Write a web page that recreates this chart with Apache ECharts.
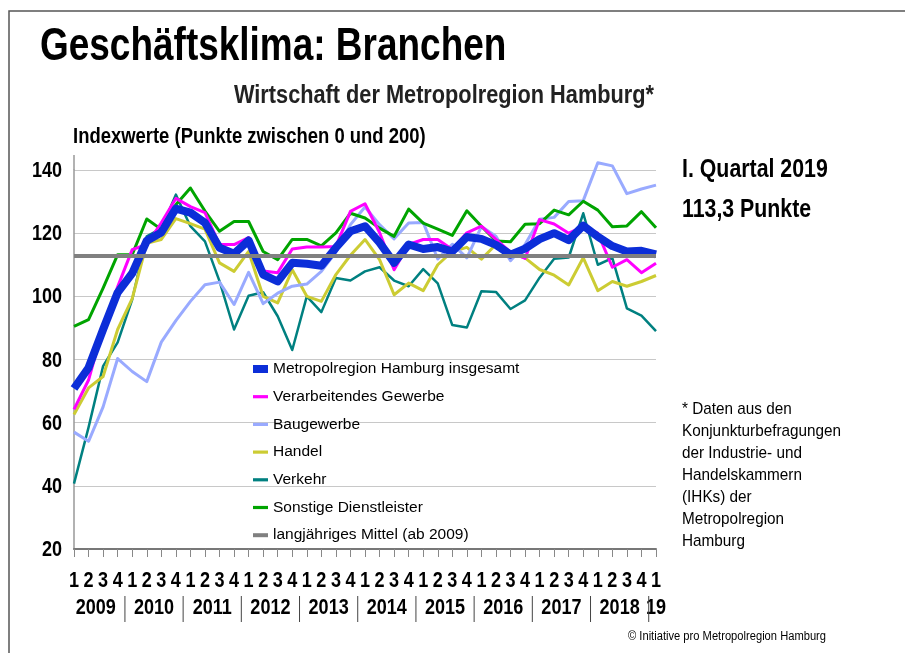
<!DOCTYPE html>
<html>
<head>
<meta charset="utf-8">
<script src="https://cdn.jsdelivr.net/npm/echarts@6/dist/echarts.min.js"></script>
<style>
html,body{margin:0;padding:0;background:#fff;}
#chart{width:905px;height:653px;}
</style>
</head>
<body>
<div id="chart"></div>
<script>
// ---- data ----
const quarterLabels = ['1','2','3','4','1','2','3','4','1','2','3','4','1','2','3','4','1','2','3','4',
  '1','2','3','4','1','2','3','4','1','2','3','4','1','2','3','4','1','2','3','4','1'];
const yearLabels = ['2009','2010','2011','2012','2013','2014','2015','2016','2017','2018','19'];
const yTicks = [20, 40, 60, 80, 100, 120, 140];

const gesamt = [70.8,77.4,89.5,101.2,107.3,117.6,120.2,127.8,126.5,123.3,115.4,113.5,117.7,106.9,104.7,110.6,110.3,109.7,115.4,120.6,
  122.2,117,110.6,116.4,115,115.6,114.2,118.8,118.2,116.3,113.2,115.1,118.1,120,117.8,122.4,118.9,115.9,114.2,114.4,113.3];
const verarbeitend = [64.2,73.5,90,103,114.8,116.4,123.3,131,128.4,126.5,116.4,116.4,118.6,108,107.5,115,115.6,115.6,115.8,126.9,
  129.3,120.2,108.4,116.4,118,118,114.8,120.1,122.2,118,114,112,124.3,122.9,120,122.1,120,109.2,111.6,107.5,110.5];
const baugewerbe = [57,54.1,65,80.3,76.2,73,85.5,92.3,98.4,103.7,104.5,97.4,107.6,97.7,101,103.2,103.9,107.9,114,122.7,
  128.3,122.7,118.2,123.2,123.4,111.8,116.5,112.2,122.1,119,111.3,116.4,124.4,125,130,130.3,142.3,141.3,132.5,134,135.2];
const handel = [62.6,71,74.6,89.5,99.3,116.8,118,124.6,123,121.3,110.6,107.9,114.2,100,97.9,108.4,100,98.4,106.9,113,
  118,111.6,100.5,104.2,101.8,110,114.2,115.5,111.8,116.4,113.6,112.2,108.5,106.7,103.6,112.2,101.8,104.7,103.2,104.7,106.6];
const verkehr = [40.7,58.5,77.9,85.4,99,119,121.5,132.2,122.2,117.4,104.8,89.5,100.2,101.3,93.7,83,100,95,105.8,105,
  107.9,109.2,105,103.2,108.6,104.1,90.9,90.1,101.6,101.4,96,98.7,105.9,111.9,112.3,126.3,110,112.1,96.2,93.9,89];
const sonstige = [90.5,92.6,102.6,113.2,113.2,124.5,121.2,129,134.3,127,120.6,123.7,123.7,114.2,111.6,118,118,116,120.1,126.3,
  124.8,121.6,119,127.6,123.2,121.3,119.3,127.1,122.2,117.5,117.3,122.8,123,127.3,125.8,130.1,127.3,122,122.3,126.8,121.7];
const mittel = 113;

const seriesNames = ['Metropolregion Hamburg insgesamt','Verarbeitendes Gewerbe','Baugewerbe','Handel','Verkehr',
  'Sonstige Dienstleister','langjähriges Mittel (ab 2009)'];

const FN = "'Liberation Sans',Arial,sans-serif";
const NARROW = 0.82;

// positions on the quarter scale
const quarterItems = quarterLabels.map((q, i) => [i, i]);
const yearItems = yearLabels.map((y, k) => [k < 10 ? 4 * k + 1.5 : 40, k]);
const separatorItems = [];
for (let k = 0; k < 10; k++) separatorItems.push(4 * k + 3.5);

const chart = echarts.init(document.getElementById('chart'), null, {renderer: 'canvas'});

function lineSeries(name, data, color, width) {
  return {name, type: 'line', data, symbol: 'none', smooth: false, clip: false,
    color, lineStyle: {color, width, join: 'round'}, itemStyle: {color}, emphasis: {disabled: true}};
}

function txt(x, y, text, size, opts) {
  opts = opts || {};
  return {type: 'text', x, y, scaleX: opts.scale || NARROW, silent: true,
    style: {text, fontFamily: FN, fontWeight: opts.weight || 'bold', fontSize: size, fill: opts.fill || '#000',
      align: opts.align || 'left', verticalAlign: opts.va || 'middle', lineHeight: opts.lh}};
}

const option = {
  animation: false,
  backgroundColor: '#ffffff',
  grid: {left: 74, right: 249, top: 170, bottom: 104, containLabel: false},
  xAxis: [{
    type: 'category', data: quarterLabels, boundaryGap: false,
    axisLine: {show: true, lineStyle: {color: '#777', width: 2}},
    axisTick: {show: true, length: 8, inside: false, interval: 0, lineStyle: {color: '#888', width: 1}},
    axisLabel: {show: false},
    splitLine: {show: false}
  }, {
    type: 'value', min: 0, max: 40, show: false, gridIndex: 0
  }],
  yAxis: {
    type: 'value', min: 20, max: 140, interval: 20,
    axisLine: {show: true, lineStyle: {color: '#999', width: 1.5}},
    axisTick: {show: false},
    axisLabel: {show: false},
    splitLine: {show: true, lineStyle: {color: '#c8c8c8', width: 1}}
  },
  legend: {
    orient: 'vertical', left: 248, top: 356,
    itemWidth: 15, itemHeight: 14, itemGap: 11.7,
    symbolKeepAspect: true,
    textStyle: {fontFamily: FN, fontSize: 15.5, color: '#000'},
    data: [
      {name: seriesNames[0], icon: 'path://M0,0H15V8H0Z'},
      {name: seriesNames[1], icon: 'path://M0,0H15V3.2H0Z'},
      {name: seriesNames[2], icon: 'path://M0,0H15V3.2H0Z'},
      {name: seriesNames[3], icon: 'path://M0,0H15V3.2H0Z'},
      {name: seriesNames[4], icon: 'path://M0,0H15V3.2H0Z'},
      {name: seriesNames[5], icon: 'path://M0,0H15V3.2H0Z'},
      {name: seriesNames[6], icon: 'path://M0,0H15V4H0Z'}
    ],
    selectedMode: false
  },
  series: [
    {
      name: seriesNames[6], type: 'line', data: [], color: '#808080',
      itemStyle: {color: '#808080'}, lineStyle: {color: '#808080'},
      markLine: {silent: true, symbol: 'none', label: {show: false},
        lineStyle: {color: '#808080', width: 4, type: 'solid'},
        data: [{yAxis: mittel}]}
    },
    lineSeries(seriesNames[4], verkehr, '#008080', 2.5),
    lineSeries(seriesNames[3], handel, '#cccc33', 3),
    lineSeries(seriesNames[2], baugewerbe, '#99aaff', 3),
    lineSeries(seriesNames[5], sonstige, '#00a400', 3),
    lineSeries(seriesNames[1], verarbeitend, '#ff00ff', 3),
    lineSeries(seriesNames[0], gesamt, '#0c2ed8', 8),
    { // quarter labels
      type: 'custom', xAxisIndex: 1, yAxisIndex: 0, clip: false, silent: true,
      data: quarterItems,
      renderItem: function (params, api) {
        const p = api.coord([api.value(0), 20]);
        return txt(p[0], p[1] + 32, quarterLabels[api.value(1)], 22, {align: 'center'});
      }
    },
    { // year labels
      type: 'custom', xAxisIndex: 1, yAxisIndex: 0, clip: false, silent: true,
      data: yearItems,
      renderItem: function (params, api) {
        const p = api.coord([api.value(0), 20]);
        return txt(p[0], p[1] + 59, yearLabels[api.value(1)], 22, {align: 'center'});
      }
    },
    { // year separators
      type: 'custom', xAxisIndex: 1, yAxisIndex: 0, clip: false, silent: true,
      data: separatorItems,
      renderItem: function (params, api) {
        const p = api.coord([api.value(0), 20]);
        return {type: 'line', shape: {x1: p[0], y1: p[1] + 47, x2: p[0], y2: p[1] + 73},
          style: {stroke: '#444', lineWidth: 1}};
      }
    },
    { // y-axis labels
      type: 'custom', xAxisIndex: 1, yAxisIndex: 0, clip: false, silent: true,
      data: yTicks.map(v => [0, v]),
      renderItem: function (params, api) {
        const p = api.coord([0, api.value(1)]);
        const children = [txt(p[0] - 12, p[1] + 1, String(api.value(1)), 22, {align: 'right'})];
        if (params.dataIndex === yTicks.length - 1) {
          children.push({type: 'line', shape: {x1: p[0], y1: p[1], x2: p[0], y2: p[1] - 15},
            style: {stroke: '#999', lineWidth: 1.5}});
        }
        return {type: 'group', children};
      }
    }
  ],
  graphic: [
    {type: 'rect', shape: {x: 9, y: 11, width: 1000, height: 1000},
      style: {fill: 'none', stroke: '#555', lineWidth: 1.5}, silent: true},
    txt(40, 47, 'Geschäftsklima: Branchen', 46.5, {scale: 0.795}),
    txt(234, 96, 'Wirtschaft der Metropolregion Hamburg*', 26.5, {fill: '#222'}),
    txt(73, 137, 'Indexwerte (Punkte zwischen 0 und 200)', 22.5),
    txt(682, 170, 'I. Quartal 2019', 26),
    txt(682, 210, '113,3 Punkte', 26),
    txt(682, 398, '* Daten aus den\nKonjunkturbefragungen\nder Industrie- und\nHandelskammern\n(IHKs) der\nMetropolregion\nHamburg',
      17, {weight: 'normal', scale: 0.9, va: 'top', lh: 22}),
    txt(628, 637, '© Initiative pro Metropolregion Hamburg', 12, {weight: 'normal', scale: 0.93})
  ]
};
chart.setOption(option);
</script>
</body>
</html>
